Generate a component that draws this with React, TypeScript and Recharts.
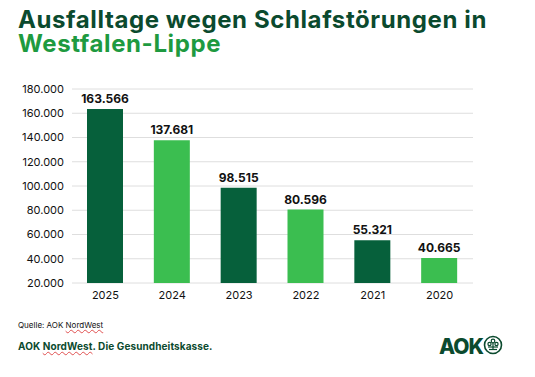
import React from 'react';
import { BarChart, Bar, XAxis, YAxis, CartesianGrid, LabelList, Cell } from 'recharts';

const years = ['2025', '2024', '2023', '2022', '2021', '2020'];
const values = [163566, 137681, 98515, 80596, 55321, 40665];
const barColors = ['#06603B', '#3BBE50', '#06603B', '#3BBE50', '#06603B', '#3BBE50'];
const yTicks = [20000, 40000, 60000, 80000, 100000, 120000, 140000, 160000, 180000];

const data = years.map((y, i) => ({ year: y, value: values[i] }));

const fmt = (v: number) => String(v).replace(/\B(?=(\d{3})+(?!\d))/g, '.');

const FONT = 'Inter, "Noto Sans", sans-serif';

export default function App() {
  return (
    <div style={{ position: 'fixed', left: 0, top: 0, width: 535, height: 377, background: '#fff', overflow: 'hidden', fontFamily: FONT }}>
      <div style={{ position: 'absolute', left: 18, top: 8, fontSize: 24, fontWeight: 700, lineHeight: '24px', letterSpacing: 0.6, whiteSpace: 'nowrap' }}>
        <div style={{ color: '#0B4A2E', height: 24 }}>Ausfalltage wegen Schlafstörungen in</div>
        <div style={{ color: '#1E9A40', height: 24 }}>Westfalen-Lippe</div>
      </div>
      <div style={{ position: 'absolute', left: 0, top: 0 }}>
        <BarChart width={535} height={377} data={data} margin={{ top: 89, right: 62, bottom: 64, left: 12 }}>
          <CartesianGrid vertical={false} stroke="#dedede" />
          <XAxis dataKey="year" axisLine={false} tickLine={false} tick={{ fill: '#111', fontSize: 11, fontFamily: FONT }} height={30} />
          <YAxis domain={[20000, 180000]} ticks={yTicks} allowDataOverflow axisLine={false} tickLine={false} width={60}
            tickFormatter={fmt} tick={{ fill: '#111', fontSize: 11, fontFamily: FONT }} interval={0} />
          <Bar dataKey="value" barSize={36} isAnimationActive={false}>
            {data.map((d, i) => (
              <Cell key={d.year} fill={barColors[i]} />
            ))}
            <LabelList dataKey="value" position="top" offset={6} formatter={(v: any) => fmt(Number(v))}
              style={{ fill: '#111', fontSize: 12, fontWeight: 700, fontFamily: FONT }} />
          </Bar>
        </BarChart>
      </div>
      <div style={{ position: 'absolute', left: 18, top: 320, fontSize: 8, color: '#111' }}>
        Quelle: AOK <span style={{ textDecoration: 'underline wavy #e05050', textDecorationThickness: 1 }}>NordWest</span>
      </div>
      <div style={{ position: 'absolute', left: 18, top: 340, fontSize: 10, fontWeight: 700, color: '#0B4A2E', letterSpacing: 0.1 }}>
        AOK <span style={{ textDecoration: 'underline wavy #e05050', textDecorationThickness: 1 }}>NordWest</span>. Die Gesundheitskasse.
      </div>
      <div style={{ position: 'absolute', left: 439, top: 334, fontSize: 21, fontWeight: 800, color: '#0B4A2E', letterSpacing: -1 }}>
        AOK
      </div>
      <svg style={{ position: 'absolute', left: 483, top: 335 }} width={20} height={20} viewBox="0 0 20 20">
        <circle cx={10} cy={10} r={8.5} fill="none" stroke="#0B4A2E" strokeWidth={1.6} />
        <circle cx={10} cy={6} r={1.8} fill="none" stroke="#0B4A2E" strokeWidth={1.2} />
        <circle cx={6.5} cy={9} r={1.6} fill="none" stroke="#0B4A2E" strokeWidth={1.2} />
        <circle cx={13.5} cy={9} r={1.6} fill="none" stroke="#0B4A2E" strokeWidth={1.2} />
        <line x1={10} y1={8} x2={10} y2={14} stroke="#0B4A2E" strokeWidth={1.2} />
        <line x1={5} y1={12} x2={15} y2={12} stroke="#0B4A2E" strokeWidth={1.2} />
        <line x1={6} y1={14.5} x2={14} y2={14.5} stroke="#0B4A2E" strokeWidth={1.2} />
      </svg>
    </div>
  );
}
